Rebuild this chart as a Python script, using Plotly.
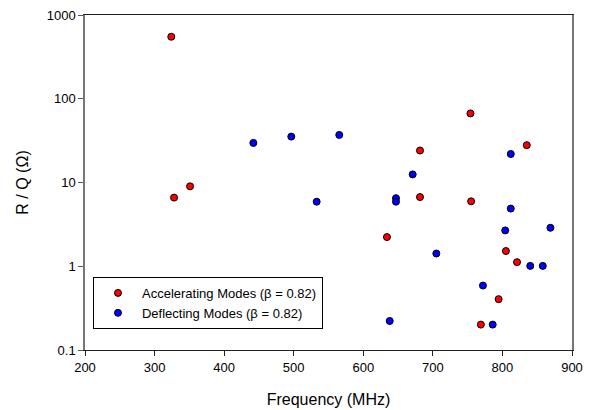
import plotly.graph_objects as go

# Accelerating modes (beta = 0.82)
acc_freq = [324, 328, 351, 634, 681.5, 681.5, 754, 755, 769, 794.5, 805, 821, 835]
acc_rq = [550, 6.6, 9.0, 2.23, 24.1, 6.7, 66.8, 5.96, 0.201, 0.405, 1.52, 1.12, 27.9]

# Deflecting modes (beta = 0.82)
def_freq = [442, 496.5, 533, 565.5, 638, 647, 647, 671, 705, 772, 786, 804, 812, 812, 840, 858, 869]
def_rq = [29.7, 35.3, 5.9, 37.0, 0.222, 6.5, 5.9, 12.5, 1.42, 0.588, 0.201, 2.68, 21.9, 4.88, 1.01, 1.01, 2.88]

y_tickvals = [0.1, 1, 10, 100, 1000]
y_ticktext = ["0.1", "1", "10", "100", "1000"]
x_tickvals = [200, 300, 400, 500, 600, 700, 800, 900]

FONT = "Liberation Sans, Arial, sans-serif"

fig = go.Figure()
fig.add_trace(go.Scatter(
    x=acc_freq, y=acc_rq, mode="markers",
    name="Accelerating Modes (β = 0.82)",
    marker=dict(color="#FF0000", size=7, line=dict(color="black", width=1)),
))
fig.add_trace(go.Scatter(
    x=def_freq, y=def_rq, mode="markers",
    name="Deflecting Modes (β = 0.82)",
    marker=dict(color="#0000FF", size=7, line=dict(color="black", width=1)),
))

fig.update_layout(
    width=596, height=402,
    margin=dict(l=77, r=32, t=7, b=60),
    paper_bgcolor="white", plot_bgcolor="white",
    font=dict(family=FONT, size=13, color="black"),
    showlegend=True,
    legend=dict(
        x=0.0164, y=0.218, xanchor="left", yanchor="top",
        bordercolor="black", borderwidth=1, bgcolor="white",
        font=dict(family=FONT, size=13, color="black"),
        tracegroupgap=0, itemwidth=38,
    ),
    xaxis=dict(
        range=[200, 900], tickvals=x_tickvals,
        showgrid=False, zeroline=False,
        showline=True, mirror=True, linecolor="#222", linewidth=1,
        ticks="outside", ticklen=5, tickcolor="#222",
        tickfont=dict(family=FONT, size=13),
        ticklabeloverflow="allow",
        title=dict(text="Frequency (MHz)", font=dict(family=FONT, size=16), standoff=20),
        automargin=False,
    ),
    yaxis=dict(
        type="log", range=[-1, 3], tickvals=y_tickvals, ticktext=y_ticktext,
        showgrid=False, zeroline=False,
        showline=True, mirror=True, linecolor="#777", linewidth=1.5,
        ticks="outside", ticklen=5, tickcolor="#555",
        tickfont=dict(family=FONT, size=13),
        ticklabeloverflow="allow",
        title=dict(text="R / Q (Ω)", font=dict(family=FONT, size=16), standoff=14),
        automargin=False,
    ),
)

fig.write_html("out.html")
